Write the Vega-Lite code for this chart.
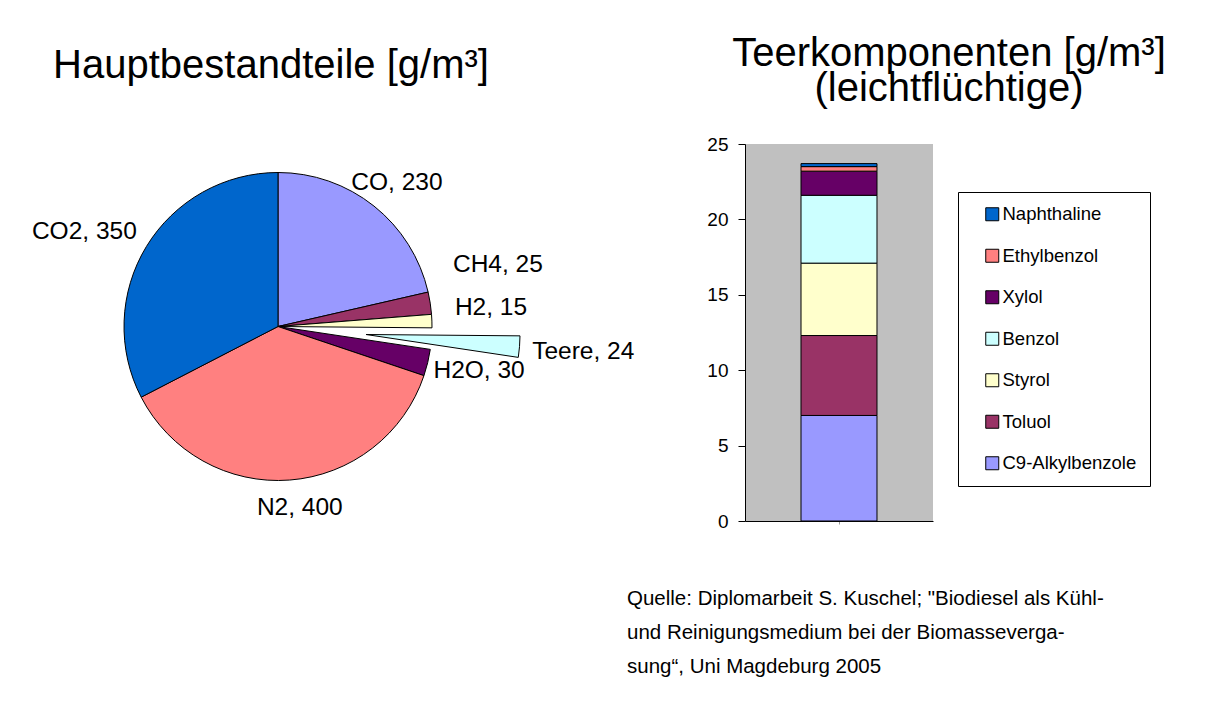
{
  "$schema": "https://vega.github.io/schema/vega-lite/v6.json",
  "padding": {"left": 0, "top": 34, "right": 0, "bottom": 0},
  "bounds": "flush",
  "spacing": 189,
  "background": "white",
  "resolve": {"scale": {"color": "independent"}, "legend": {"color": "independent"}},
  "config": {
    "font": "Liberation Sans",
    "view": {"stroke": null},
    "title": {"fontWeight": "normal", "color": "black", "font": "Liberation Sans"}
  },
  "title": {
    "text": ["Quelle: Diplomarbeit S. Kuschel; \"Biodiesel als Kühl-", "und Reinigungsmedium bei der Biomasseverga-", "sung“, Uni Magdeburg 2005"],
    "orient": "bottom", "anchor": "start", "frame": "bounds", "dx": 627,
    "fontSize": 20.5, "lineHeight": 34, "offset": -8
  },
  "hconcat": [
    {
      "width": 556,
      "height": 365,
      "title": {"text": "Hauptbestandteile [g/m³]", "fontSize": 40, "anchor": "middle", "frame": "group", "dx": -7, "offset": 33},
      "data": {"values": [
        {"name": "CO", "value": 230, "i": 1, "label": "CO, 230"},
        {"name": "CH4", "value": 25, "i": 2, "label": "CH4, 25"},
        {"name": "H2", "value": 15, "i": 3, "label": "H2, 15"},
        {"name": "Teere", "value": 24, "i": 4, "label": "Teere, 24"},
        {"name": "H2O", "value": 30, "i": 5, "label": "H2O, 30"},
        {"name": "N2", "value": 400, "i": 6, "label": "N2, 400"},
        {"name": "CO2", "value": 350, "i": 7, "label": "CO2, 350"}
      ]},
      "encoding": {
        "theta": {"field": "value", "type": "quantitative", "stack": true},
        "order": {"field": "i", "type": "quantitative"}
      },
      "layer": [
        {
          "mark": {"type": "arc", "outerRadius": 154, "stroke": "black", "strokeWidth": 1},
          "encoding": {
            "color": {"field": "name", "type": "nominal", "legend": null,
              "scale": {"domain": ["CO", "CH4", "H2", "Teere", "H2O", "N2", "CO2"],
                        "range": ["#9999FF", "#993366", "#FFFFCC", "#CCFFFF", "#660066", "#FF8080", "#0066CC"]}},
            "opacity": {"condition": {"test": "datum.name === 'Teere'", "value": 0}, "value": 1}
          }
        },
        {
          "mark": {"type": "arc", "outerRadius": 154, "stroke": "black", "strokeWidth": 1, "xOffset": 88, "yOffset": 8},
          "encoding": {
            "color": {"field": "name", "type": "nominal", "legend": null,
              "scale": {"domain": ["CO", "CH4", "H2", "Teere", "H2O", "N2", "CO2"],
                        "range": ["#9999FF", "#993366", "#FFFFCC", "#CCFFFF", "#660066", "#FF8080", "#0066CC"]}},
            "opacity": {"condition": {"test": "datum.name === 'Teere'", "value": 1}, "value": 0}
          }
        },
        {
          "mark": {"type": "text", "radius": 186, "align": "center", "baseline": "middle", "fontSize": 24.5, "dx": 3, "dy": 2, "color": "black"},
          "encoding": {"detail": {"field": "name"}, "text": {"condition": {"test": "datum.name === 'CO'", "field": "label", "type": "nominal"}, "value": ""}}
        },
        {
          "mark": {"type": "text", "radius": 178, "align": "left", "baseline": "middle", "fontSize": 24.5, "dx": -1, "dy": -35, "color": "black"},
          "encoding": {"detail": {"field": "name"}, "text": {"condition": {"test": "datum.name === 'CH4'", "field": "label", "type": "nominal"}, "value": ""}}
        },
        {
          "mark": {"type": "text", "radius": 178, "align": "left", "baseline": "middle", "fontSize": 24.5, "dx": -1, "dy": -12, "color": "black"},
          "encoding": {"detail": {"field": "name"}, "text": {"condition": {"test": "datum.name === 'H2'", "field": "label", "type": "nominal"}, "value": ""}}
        },
        {
          "mark": {"type": "text", "radius": 255, "align": "left", "baseline": "middle", "fontSize": 24.5, "dx": 0, "dy": 5, "color": "black"},
          "encoding": {"detail": {"field": "name"}, "text": {"condition": {"test": "datum.name === 'Teere'", "field": "label", "type": "nominal"}, "value": ""}}
        },
        {
          "mark": {"type": "text", "radius": 162, "align": "left", "baseline": "middle", "fontSize": 24.5, "dx": -2, "dy": 6, "color": "black"},
          "encoding": {"detail": {"field": "name"}, "text": {"condition": {"test": "datum.name === 'H2O'", "field": "label", "type": "nominal"}, "value": ""}}
        },
        {
          "mark": {"type": "text", "radius": 182, "align": "center", "baseline": "middle", "fontSize": 24.5, "dx": 8, "dy": 0, "color": "black"},
          "encoding": {"detail": {"field": "name"}, "text": {"condition": {"test": "datum.name === 'N2'", "field": "label", "type": "nominal"}, "value": ""}}
        },
        {
          "mark": {"type": "text", "radius": 170, "align": "right", "baseline": "middle", "fontSize": 24.5, "dx": 4, "dy": -6, "color": "black"},
          "encoding": {"detail": {"field": "name"}, "text": {"condition": {"test": "datum.name === 'CO2'", "field": "label", "type": "nominal"}, "value": ""}}
        }
      ]
    },
    {
      "width": 188,
      "height": 377,
      "title": {"text": ["Teerkomponenten [g/m³]", "(leichtflüchtige)"], "fontSize": 40, "lineHeight": 35, "anchor": "middle", "frame": "group", "dx": 110, "offset": 26},
      "view": {"fill": "#C0C0C0", "stroke": null},
      "data": {"values": [
        {"name": "C9-Alkylbenzole", "value": 7.0, "i": 1},
        {"name": "Toluol", "value": 5.3, "i": 2},
        {"name": "Styrol", "value": 4.8, "i": 3},
        {"name": "Benzol", "value": 4.5, "i": 4},
        {"name": "Xylol", "value": 1.6, "i": 5},
        {"name": "Ethylbenzol", "value": 0.3, "i": 6},
        {"name": "Naphthaline", "value": 0.2, "i": 7}
      ]},
      "mark": {"type": "bar", "stroke": "black", "strokeWidth": 1},
      "encoding": {
        "x": {"datum": "Teer", "type": "nominal",
              "scale": {"paddingInner": 0, "paddingOuter": 0.737},
              "axis": {"labels": false, "title": null, "domainColor": "black", "ticks": true, "tickSize": 3, "tickColor": "#999999"}},
        "y": {"field": "value", "type": "quantitative", "stack": true,
              "scale": {"domain": [0, 25]},
              "axis": {"values": [0, 5, 10, 15, 20, 25], "grid": false, "title": null, "domainColor": "black", "tickColor": "black", "tickSize": 7, "labelFontSize": 19, "labelColor": "black", "labelPadding": 10}},
        "color": {"field": "name", "type": "nominal",
                  "scale": {"domain": ["Naphthaline", "Ethylbenzol", "Xylol", "Benzol", "Styrol", "Toluol", "C9-Alkylbenzole"],
                            "range": ["#0066CC", "#FF8080", "#660066", "#CCFFFF", "#FFFFCC", "#993366", "#9999FF"]},
                  "legend": {"title": null, "orient": "none", "legendX": 213, "legendY": 48, "strokeColor": "black", "fillColor": "white", "padding": 13,
                             "symbolType": "square", "symbolSize": 169, "symbolStrokeColor": "black", "symbolStrokeWidth": 1, "symbolOffset": 12,
                             "labelFontSize": 18.5, "labelColor": "black", "labelOffset": 1, "rowPadding": 22.5}},
        "order": {"field": "i", "type": "quantitative"}
      }
    }
  ]
}
